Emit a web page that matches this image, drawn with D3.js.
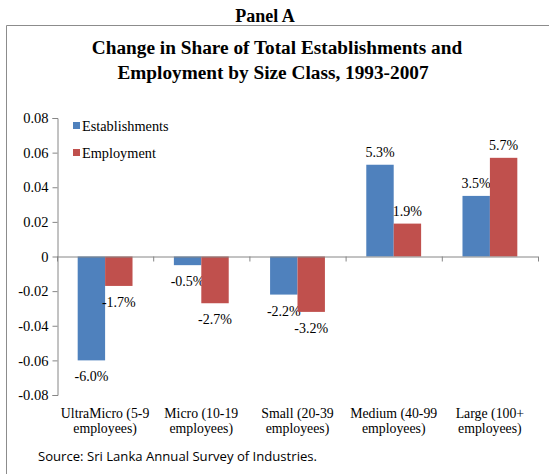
<!DOCTYPE html>
<html><head><meta charset="utf-8">
<script src="https://cdn.jsdelivr.net/npm/d3@7"></script>
<style>body{margin:0;background:#fff}svg{display:block}.sf{font-family:'Liberation Serif','Times New Roman',serif}</style>
</head><body>
<svg id="c" width="549" height="474"></svg>
<script>
const categories = [["UltraMicro (5-9","employees)"],["Micro (10-19","employees)"],["Small (20-39","employees)"],["Medium (40-99","employees)"],["Large (100+","employees)"]];
const seriesNames = ["Establishments","Employment"];
const establishments = [-0.060,-0.005,-0.022,0.053,0.035];
const employment = [-0.017,-0.027,-0.032,0.019,0.057];
const yTicks = [-0.08,-0.06,-0.04,-0.02,0,0.02,0.04,0.06,0.08];
const colors = ["#4F81BD","#C0504D"];

const svg = d3.select("#c");
const fix = s => s.replace(/\u2212/g,"-");
// frame
svg.append("path").attr("d","M6.5,474 V25.5 H549").attr("fill","none").attr("stroke","#8c8c8c").attr("stroke-width",1);
svg.append("text").attr("class","sf").attr("x",265).attr("y",22).attr("text-anchor","middle").attr("font-weight","bold").attr("font-size",18).text("Panel A");
svg.append("text").attr("class","sf").attr("x",277).attr("y",54).attr("text-anchor","middle").attr("font-weight","bold").attr("font-size",19.3).text("Change in Share of Total Establishments and");
svg.append("text").attr("class","sf").attr("x",273).attr("y",79).attr("text-anchor","middle").attr("font-weight","bold").attr("font-size",19.3).text("Employment by Size Class, 1993-2007");

const y = d3.scaleLinear().domain([-0.08,0.08]).range([395,118]);
const x = d3.scaleBand().domain(d3.range(categories.length)).range([57,538]).paddingInner(0.43).paddingOuter(0.215);
const xs = d3.scaleBand().domain([0,1]).range([0,x.bandwidth()]);
const axisColor = "#868686";

// y axis
const ya = svg.append("g").attr("transform","translate(57.5,0)").call(d3.axisLeft(y).tickValues(yTicks).tickSize(5).tickPadding(4).tickFormat(d=>d===0?"0":fix(d3.format(".2f")(d))));
ya.attr("font-family",null).attr("font-size",null);
ya.select(".domain").attr("stroke",axisColor);
ya.selectAll(".tick line").attr("stroke",axisColor);
ya.selectAll("text").attr("class","sf").attr("font-size",14.5).attr("fill","#000");

// bars
const data = [establishments, employment];
data.forEach((vals,s)=>{
  svg.append("g").selectAll("rect").data(vals).join("rect")
    .attr("x",(d,i)=>x(i)+xs(s)).attr("width",xs.bandwidth())
    .attr("y",d=>y(Math.max(0,d))).attr("height",d=>Math.abs(y(d)-y(0)))
    .attr("fill",colors[s]);
  svg.append("g").selectAll("text").data(vals).join("text").attr("class","sf")
    .attr("x",(d,i)=>x(i)+xs(s)+xs.bandwidth()/2)
    .attr("y",d=>d>=0? y(d)-8 : y(d)+21)
    .attr("text-anchor","middle").attr("font-size",14).attr("fill","#000")
    .text(d=>fix(d3.format(".1%")(d)));
});

// x axis at zero
const step = x.step();
svg.append("line").attr("x1",57).attr("x2",538).attr("y1",y(0)+0.5).attr("y2",y(0)+0.5).attr("stroke",axisColor);
svg.append("g").selectAll("line").data(d3.range(categories.length+1)).join("line")
  .attr("x1",i=>57+i*step+0.5).attr("x2",i=>57+i*step+0.5).attr("y1",y(0)).attr("y2",y(0)+5).attr("stroke",axisColor);

// category labels
const cl = svg.append("g").selectAll("text").data(categories).join("text").attr("class","sf")
  .attr("x",(d,i)=>x(i)+x.bandwidth()/2).attr("y",418)
  .attr("text-anchor","middle").attr("font-size",13.8).attr("fill","#000");
cl.each(function(d){
  const t=d3.select(this);
  d.forEach((line,k)=>t.append("tspan").attr("x",t.attr("x")).attr("dy",k===0?0:15).text(line));
});

// legend
const lg = svg.append("g");
seriesNames.forEach((n,i)=>{
  lg.append("rect").attr("x",73).attr("y",122+i*27).attr("width",7).attr("height",7).attr("fill",colors[i]);
  lg.append("text").attr("class","sf").attr("x",82).attr("y",131+i*27).attr("font-size",14.3).attr("fill","#000").text(n);
});

// source
svg.append("text").attr("x",38).attr("y",461).attr("font-family","'Open Sans','Liberation Sans',sans-serif").attr("font-size",13).attr("textLength",279).attr("lengthAdjust","spacingAndGlyphs").attr("fill","#000").text("Source: Sri Lanka Annual Survey of Industries.");
</script>
</body></html>
